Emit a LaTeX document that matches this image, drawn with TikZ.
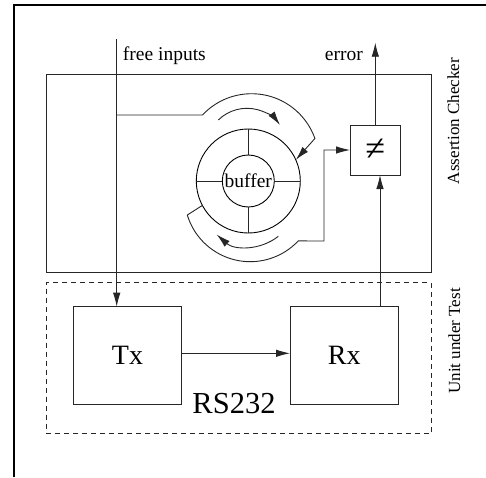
\documentclass[tikz,border=0pt]{standalone}
\usepackage{fontspec}
\setmainfont{Liberation Serif}
\usetikzlibrary{arrows.meta}
\begin{document}
\begin{tikzpicture}[x=1pt,y=-1pt,
  ln/.style={draw=black!85, line width=0.9pt},
  arr/.style={ln, -{Latex[length=14pt,width=7.5pt]}},
  boxs/.style={ln, rectangle, inner sep=0pt, outer sep=0pt},
  circ/.style={draw=black, line width=0.9pt, circle, inner sep=0pt, outer sep=0pt},
  lbl/.style={font=\fontsize{19.5}{19.5}\selectfont, inner sep=0pt},
  side/.style={font=\fontsize{17}{17}\selectfont, inner sep=0pt, rotate=90, anchor=base},
  big/.style={font=\fontsize{28}{28}\selectfont, inner sep=0pt}]
\useasboundingbox (0,0) rectangle (486,477);
% frame
\draw[line width=2.5pt] (14,477) -- (14,5) -- (486,5);
% boxes
\node[boxs, minimum width=385pt, minimum height=198pt] (ac) at (238.5,173) {};
\node[boxs, dashed, dash pattern=on 5pt off 4pt, minimum width=385pt, minimum height=151pt] (uut) at (238.5,358) {};
\node[boxs, big, minimum width=108.4pt, minimum height=97.6pt] (Tx) at (127.5,355.5) {Tx};
\node[boxs, big, minimum width=108.4pt, minimum height=97.6pt] (Rx) at (344.2,355.5) {Rx};
\node[boxs, font=\fontsize{36}{36}\selectfont, minimum width=50.5pt, minimum height=50pt] (neq) at (375.3,150) {≠};
\node[font=\fontsize{30.5}{30.5}\selectfont, inner sep=0pt] (rs) at (234,403.7) {RS232};
% buffer ring
\node[circ, minimum size=104pt] (ring) at (248.3,181) {};
\node[circ, lbl, minimum size=52pt] (buf) at (248.3,181) {buffer};
\draw[ln] (buf.north) -- (ring.north);
\draw[ln] (buf.south) -- (ring.south);
\draw[ln] (buf.east) -- (ring.east);
\draw[ln] (buf.west) -- (ring.west);
% labels
\node[lbl, anchor=base west] (finl) at (122.7,60) {free inputs};
\node[lbl, anchor=base east] (errl) at (363,60) {error};
\node[side] (acl) at (459,121) {Assertion Checker};
\node[side] (uutl) at (460,341) {Unit under Test};
% free inputs
\coordinate (fin) at (116.7,39.3);
\coordinate (br) at (116.7,115);
\draw[arr] (fin) -- (fin |- Tx.north);
\draw[arr] (br) -- (202.5,115) arc[start angle=-136.9, end angle=-19.5, radius=67.2] -- (ring.24.2);
\draw[arr] (218.3,120) arc[start angle=-134.4, end angle=-36.4, radius=41];
% output of buffer
\draw[arr] (ring.208.7) -- (187.3,215) arc[start angle=163.1, end angle=43.2, radius=65.8] -- (324,241) |- (neq.west);
\draw[arr] (278.3,236.3) arc[start angle=51.5, end angle=131.9, radius=47.8];
% error
\coordinate (err) at (375.3,42.7);
\draw[arr] (neq.north) -- (err);
% Tx/Rx
\draw[arr] ([yshift=2.2pt]Tx.east) -- ([yshift=2.2pt]Rx.west);
\draw[arr] ([xshift=35.8pt]Rx.north) -- ([xshift=4.7pt]neq.south);
\end{tikzpicture}
\end{document}
